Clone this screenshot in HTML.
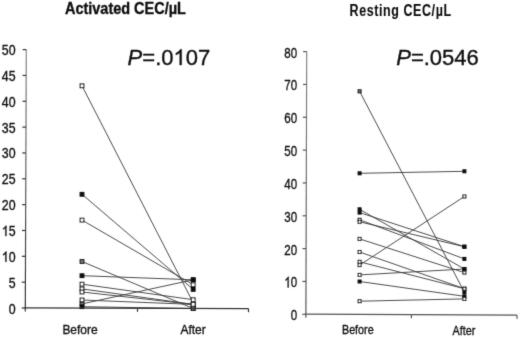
<!DOCTYPE html>
<html><head><meta charset="utf-8"><style>
html,body{margin:0;padding:0;background:#fff;}
svg{display:block;font-family:"Liberation Sans",sans-serif;}
.d{stroke:#3a3a3a;stroke-width:0.9;}
.m{stroke:#111;stroke-width:1;}
.a{stroke-width:1.2;}
text{fill:#111;stroke:#111;stroke-width:0.35px;}
.g{fill:#111;stroke:#111;stroke-width:0.35px;vector-effect:non-scaling-stroke;}
</style></head><body>
<svg width="520" height="337" viewBox="0 0 520 337">
<defs><filter id="bl" filterUnits="userSpaceOnUse" x="0" y="0" width="520" height="337"><feConvolveMatrix order="3" kernelMatrix="0.018 0.135 0.018 0.135 1 0.135 0.018 0.135 0.018" divisor="1.612" edgeMode="duplicate"/></filter></defs>
<rect width="520" height="337" fill="#fff"/>
<g filter="url(#bl)">
<text transform="translate(125.40 13.90) scale(0.905 1)" text-anchor="middle" font-size="16" font-weight="bold">Activated CEC/µL</text>
<text transform="translate(400.60 16.10) scale(0.8 1)" text-anchor="middle" font-size="15.6" font-weight="bold" letter-spacing="0.75" style="stroke-width:0.1px">Resting CEC/µL</text>
<text transform="translate(127.60 65.00) scale(1.0 1)" text-anchor="start" font-size="22"><tspan font-style="italic">P</tspan>=.0&#x2007;07</text><path transform="translate(127.60 65.00) scale(1.0 1) translate(45.869 0) scale(0.01074 -0.01074)" d="M763 0H583V1147Q518 1085 412.5 1023T223 930V1104Q373 1175 485.5 1276T645 1472H763Z" class="g"/>
<text transform="translate(396.20 65.00) scale(1.0 1)" text-anchor="start" font-size="22"><tspan font-style="italic">P</tspan>=.0546</text>
<text transform="translate(80.00 333.60) scale(0.88 1)" text-anchor="middle" font-size="13.6">Before</text>
<text transform="translate(193.10 333.70) scale(0.88 1)" text-anchor="middle" font-size="13.6">After</text>
<text transform="translate(357.80 334.40) scale(0.88 1)" text-anchor="middle" font-size="12.2">Before</text>
<text transform="translate(463.90 334.60) scale(0.88 1)" text-anchor="middle" font-size="12.2">After</text>
<line x1="82.0" y1="85.8" x2="193.2" y2="302.8" class="d"/>
<line x1="82.0" y1="194.3" x2="193.2" y2="289.4" class="d"/>
<line x1="82.0" y1="220.1" x2="193.2" y2="284.7" class="d"/>
<line x1="82.0" y1="261.5" x2="193.2" y2="308.5" class="d"/>
<line x1="82.0" y1="275.7" x2="193.2" y2="279.8" class="d"/>
<line x1="82.0" y1="284.2" x2="193.2" y2="299.7" class="d"/>
<line x1="82.0" y1="288.9" x2="193.2" y2="304.4" class="d"/>
<line x1="82.0" y1="292.0" x2="193.2" y2="304.4" class="d"/>
<line x1="82.0" y1="300.0" x2="193.2" y2="304.4" class="d"/>
<line x1="82.0" y1="303.9" x2="193.2" y2="279.8" class="d"/>
<line x1="82.0" y1="306.7" x2="193.2" y2="308.5" class="d"/>
<rect x="80.1" y="83.9" width="3.8" height="3.8" fill="#fff" class="m"/>
<rect x="80.1" y="192.4" width="3.8" height="3.8" fill="#111" class="m"/>
<rect x="191.3" y="287.5" width="3.8" height="3.8" fill="#111" class="m"/>
<rect x="80.1" y="218.2" width="3.8" height="3.8" fill="#fff" class="m"/>
<rect x="191.3" y="282.8" width="3.8" height="3.8" fill="#fff" class="m"/>
<rect x="80.1" y="259.6" width="3.8" height="3.8" fill="#777" class="m"/>
<rect x="191.3" y="306.6" width="3.8" height="3.8" fill="#777" class="m"/>
<rect x="80.1" y="273.8" width="3.8" height="3.8" fill="#111" class="m"/>
<rect x="191.3" y="277.9" width="3.8" height="3.8" fill="#111" class="m"/>
<rect x="80.1" y="282.3" width="3.8" height="3.8" fill="#fff" class="m"/>
<rect x="191.3" y="297.8" width="3.8" height="3.8" fill="#fff" class="m"/>
<rect x="80.1" y="287.0" width="3.8" height="3.8" fill="#fff" class="m"/>
<rect x="191.3" y="302.5" width="3.8" height="3.8" fill="#fff" class="m"/>
<rect x="80.1" y="290.1" width="3.8" height="3.8" fill="#fff" class="m"/>
<rect x="191.3" y="302.5" width="3.8" height="3.8" fill="#fff" class="m"/>
<rect x="80.1" y="298.1" width="3.8" height="3.8" fill="#fff" class="m"/>
<rect x="191.3" y="302.5" width="3.8" height="3.8" fill="#fff" class="m"/>
<rect x="80.1" y="302.0" width="3.8" height="3.8" fill="#777" class="m"/>
<rect x="191.3" y="277.9" width="3.8" height="3.8" fill="#111" class="m"/>
<rect x="80.1" y="304.8" width="3.8" height="3.8" fill="#111" class="m"/>
<rect x="191.3" y="306.6" width="3.8" height="3.8" fill="#777" class="m"/>
<linearGradient id="g25" gradientUnits="userSpaceOnUse" x1="0" y1="49.6" x2="0" y2="308.0"><stop offset="0" stop-color="#8a8a8a"/><stop offset="1" stop-color="#333"/></linearGradient>
<line x1="26.30" y1="49.60" x2="25.29" y2="311.50" stroke="url(#g25)" class="a"/>
<line x1="24.70" y1="307.90" x2="248.50" y2="308.70" stroke="#333" class="a"/>
<line x1="137.5" y1="308.30" x2="137.5" y2="311.80" stroke="#333" class="a"/>
<line x1="248.5" y1="308.70" x2="248.5" y2="312.20" stroke="#333" class="a"/>
<line x1="21.70" y1="308.00" x2="25.30" y2="308.00" stroke="#333" class="a"/>
<text transform="translate(15.60 313.50) scale(0.86 1)" text-anchor="end" font-size="14.4">0</text>
<line x1="21.80" y1="282.16" x2="25.40" y2="282.16" stroke="#333" class="a"/>
<text transform="translate(15.60 287.66) scale(0.86 1)" text-anchor="end" font-size="14.4">5</text>
<line x1="21.90" y1="256.32" x2="25.50" y2="256.32" stroke="#333" class="a"/>
<text transform="translate(15.60 261.82) scale(0.86 1)" text-anchor="end" font-size="14.4">&#x2007;0</text><path transform="translate(15.60 261.82) scale(0.86 1) translate(-16.017 0) scale(0.00703 -0.00703)" d="M763 0H583V1147Q518 1085 412.5 1023T223 930V1104Q373 1175 485.5 1276T645 1472H763Z" class="g"/>
<line x1="22.00" y1="230.48" x2="25.60" y2="230.48" stroke="#333" class="a"/>
<text transform="translate(15.60 235.98) scale(0.86 1)" text-anchor="end" font-size="14.4">&#x2007;5</text><path transform="translate(15.60 235.98) scale(0.86 1) translate(-16.017 0) scale(0.00703 -0.00703)" d="M763 0H583V1147Q518 1085 412.5 1023T223 930V1104Q373 1175 485.5 1276T645 1472H763Z" class="g"/>
<line x1="22.10" y1="204.64" x2="25.70" y2="204.64" stroke="#333" class="a"/>
<text transform="translate(15.60 210.14) scale(0.86 1)" text-anchor="end" font-size="14.4">20</text>
<line x1="22.20" y1="178.80" x2="25.80" y2="178.80" stroke="#333" class="a"/>
<text transform="translate(15.60 184.30) scale(0.86 1)" text-anchor="end" font-size="14.4">25</text>
<line x1="22.30" y1="152.96" x2="25.90" y2="152.96" stroke="#333" class="a"/>
<text transform="translate(15.60 158.46) scale(0.86 1)" text-anchor="end" font-size="14.4">30</text>
<line x1="22.40" y1="127.12" x2="26.00" y2="127.12" stroke="#333" class="a"/>
<text transform="translate(15.60 132.62) scale(0.86 1)" text-anchor="end" font-size="14.4">35</text>
<line x1="22.50" y1="101.28" x2="26.10" y2="101.28" stroke="#333" class="a"/>
<text transform="translate(15.60 106.78) scale(0.86 1)" text-anchor="end" font-size="14.4">40</text>
<line x1="22.60" y1="75.44" x2="26.20" y2="75.44" stroke="#333" class="a"/>
<text transform="translate(15.60 80.94) scale(0.86 1)" text-anchor="end" font-size="14.4">45</text>
<line x1="22.70" y1="49.60" x2="26.30" y2="49.60" stroke="#333" class="a"/>
<text transform="translate(15.60 55.10) scale(0.86 1)" text-anchor="end" font-size="14.4">50</text>
<line x1="359.6" y1="91.3" x2="464.4" y2="292.3" class="d"/>
<line x1="359.6" y1="173.3" x2="464.4" y2="171.3" class="d"/>
<line x1="359.6" y1="209.3" x2="464.4" y2="269.0" class="d"/>
<line x1="359.6" y1="212.6" x2="464.4" y2="246.7" class="d"/>
<line x1="359.6" y1="219.8" x2="464.4" y2="258.9" class="d"/>
<line x1="359.6" y1="221.8" x2="464.4" y2="246.7" class="d"/>
<line x1="359.6" y1="238.9" x2="464.4" y2="272.6" class="d"/>
<line x1="359.6" y1="252.0" x2="464.4" y2="288.7" class="d"/>
<line x1="359.6" y1="261.8" x2="464.4" y2="288.7" class="d"/>
<line x1="359.6" y1="265.1" x2="464.4" y2="196.5" class="d"/>
<line x1="359.6" y1="274.9" x2="464.4" y2="269.0" class="d"/>
<line x1="359.6" y1="281.5" x2="464.4" y2="296.3" class="d"/>
<line x1="359.6" y1="301.2" x2="464.4" y2="298.9" class="d"/>
<rect x="358.1" y="89.8" width="3.0" height="3.0" fill="#777" class="m"/>
<rect x="462.9" y="290.8" width="3.0" height="3.0" fill="#111" class="m"/>
<rect x="358.1" y="171.8" width="3.0" height="3.0" fill="#111" class="m"/>
<rect x="462.9" y="169.8" width="3.0" height="3.0" fill="#111" class="m"/>
<rect x="358.1" y="207.8" width="3.0" height="3.0" fill="#111" class="m"/>
<rect x="462.9" y="267.5" width="3.0" height="3.0" fill="#111" class="m"/>
<rect x="358.1" y="211.1" width="3.0" height="3.0" fill="#111" class="m"/>
<rect x="462.9" y="245.2" width="3.0" height="3.0" fill="#111" class="m"/>
<rect x="358.1" y="218.3" width="3.0" height="3.0" fill="#fff" class="m"/>
<rect x="462.9" y="257.4" width="3.0" height="3.0" fill="#111" class="m"/>
<rect x="358.1" y="220.3" width="3.0" height="3.0" fill="#fff" class="m"/>
<rect x="462.9" y="245.2" width="3.0" height="3.0" fill="#111" class="m"/>
<rect x="358.1" y="237.4" width="3.0" height="3.0" fill="#fff" class="m"/>
<rect x="462.9" y="271.1" width="3.0" height="3.0" fill="#fff" class="m"/>
<rect x="358.1" y="250.5" width="3.0" height="3.0" fill="#fff" class="m"/>
<rect x="462.9" y="287.2" width="3.0" height="3.0" fill="#fff" class="m"/>
<rect x="358.1" y="260.3" width="3.0" height="3.0" fill="#fff" class="m"/>
<rect x="462.9" y="287.2" width="3.0" height="3.0" fill="#fff" class="m"/>
<rect x="358.1" y="263.6" width="3.0" height="3.0" fill="#fff" class="m"/>
<rect x="462.9" y="195.0" width="3.0" height="3.0" fill="#fff" class="m"/>
<rect x="358.1" y="273.4" width="3.0" height="3.0" fill="#fff" class="m"/>
<rect x="462.9" y="267.5" width="3.0" height="3.0" fill="#111" class="m"/>
<rect x="358.1" y="280.0" width="3.0" height="3.0" fill="#111" class="m"/>
<rect x="462.9" y="294.8" width="3.0" height="3.0" fill="#111" class="m"/>
<rect x="358.1" y="299.7" width="3.0" height="3.0" fill="#fff" class="m"/>
<rect x="462.9" y="297.4" width="3.0" height="3.0" fill="#fff" class="m"/>
<linearGradient id="g305" gradientUnits="userSpaceOnUse" x1="0" y1="51.6" x2="0" y2="314.3"><stop offset="0" stop-color="#8a8a8a"/><stop offset="1" stop-color="#555"/></linearGradient>
<line x1="306.70" y1="51.60" x2="305.89" y2="317.80" stroke="url(#g305)" class="a"/>
<line x1="305.30" y1="314.10" x2="517.00" y2="315.20" stroke="#555" class="a"/>
<line x1="411.4" y1="314.65" x2="411.4" y2="318.15" stroke="#555" class="a"/>
<line x1="517.0" y1="315.20" x2="517.0" y2="318.70" stroke="#555" class="a"/>
<line x1="302.30" y1="314.30" x2="305.90" y2="314.30" stroke="#555" class="a"/>
<text transform="translate(297.20 320.30) scale(0.77 1)" text-anchor="end" font-size="15.0">0</text>
<line x1="302.40" y1="281.46" x2="306.00" y2="281.46" stroke="#555" class="a"/>
<text transform="translate(297.20 287.46) scale(0.77 1)" text-anchor="end" font-size="15.0">&#x2007;0</text><path transform="translate(297.20 287.46) scale(0.77 1) translate(-16.685 0) scale(0.00732 -0.00732)" d="M763 0H583V1147Q518 1085 412.5 1023T223 930V1104Q373 1175 485.5 1276T645 1472H763Z" class="g"/>
<line x1="302.50" y1="248.62" x2="306.10" y2="248.62" stroke="#555" class="a"/>
<text transform="translate(297.20 254.62) scale(0.77 1)" text-anchor="end" font-size="15.0">20</text>
<line x1="302.60" y1="215.79" x2="306.20" y2="215.79" stroke="#555" class="a"/>
<text transform="translate(297.20 221.79) scale(0.77 1)" text-anchor="end" font-size="15.0">30</text>
<line x1="302.70" y1="182.95" x2="306.30" y2="182.95" stroke="#555" class="a"/>
<text transform="translate(297.20 188.95) scale(0.77 1)" text-anchor="end" font-size="15.0">40</text>
<line x1="302.80" y1="150.11" x2="306.40" y2="150.11" stroke="#555" class="a"/>
<text transform="translate(297.20 156.11) scale(0.77 1)" text-anchor="end" font-size="15.0">50</text>
<line x1="302.90" y1="117.28" x2="306.50" y2="117.28" stroke="#555" class="a"/>
<text transform="translate(297.20 123.28) scale(0.77 1)" text-anchor="end" font-size="15.0">60</text>
<line x1="303.00" y1="84.44" x2="306.60" y2="84.44" stroke="#555" class="a"/>
<text transform="translate(297.20 90.44) scale(0.77 1)" text-anchor="end" font-size="15.0">70</text>
<line x1="303.10" y1="51.60" x2="306.70" y2="51.60" stroke="#555" class="a"/>
<text transform="translate(297.20 57.60) scale(0.77 1)" text-anchor="end" font-size="15.0">80</text>
</g>
</svg>
</body></html>
